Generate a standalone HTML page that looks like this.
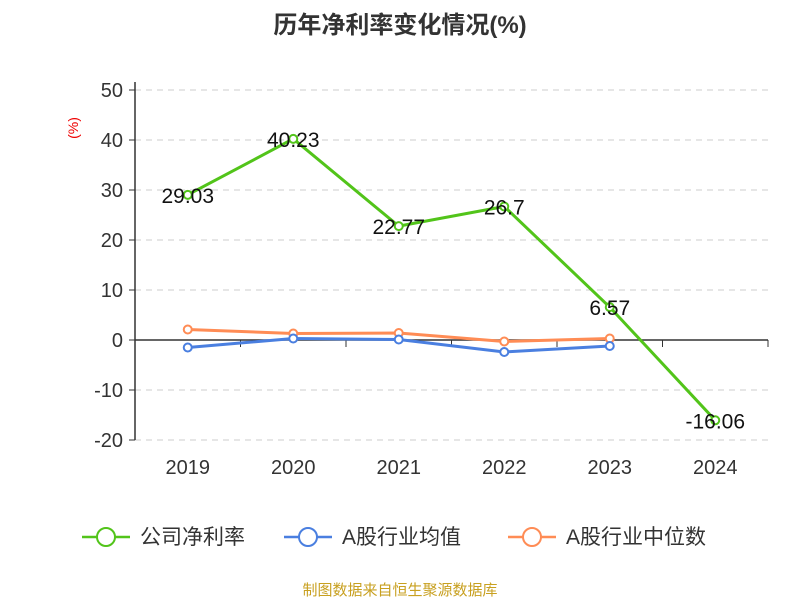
<!DOCTYPE html>
<html><head><meta charset="utf-8"><style>
body{margin:0;background:#fff;font-family:"Liberation Sans","Noto Sans CJK SC",sans-serif}
</style></head><body>
<svg id="c" width="800" height="600" xmlns="http://www.w3.org/2000/svg">
<text x="400" y="33" text-anchor="middle" font-size="24" font-weight="bold" fill="#333">历年净利率变化情况(%)</text>
<text x="78" y="128" transform="rotate(-90 78 128)" text-anchor="middle" font-size="14" fill="#e00">(%)</text>
<g id="grid"></g><g id="axes"></g><g id="series"></g>
<g font-size="21" fill="#333">
<g><line x1="82" y1="537" x2="130" y2="537" stroke="#52c41a" stroke-width="2.5"/><circle cx="106" cy="537" r="9" fill="#fff" stroke="#52c41a" stroke-width="2"/><text x="140" y="544">公司净利率</text></g>
<g><line x1="284" y1="537" x2="332" y2="537" stroke="#4a7fe0" stroke-width="2.5"/><circle cx="308" cy="537" r="9" fill="#fff" stroke="#4a7fe0" stroke-width="2"/><text x="342" y="544">A股行业均值</text></g>
<g><line x1="508" y1="537" x2="556" y2="537" stroke="#ff8c55" stroke-width="2.5"/><circle cx="532" cy="537" r="9" fill="#fff" stroke="#ff8c55" stroke-width="2"/><text x="566" y="544">A股行业中位数</text></g>
</g>
<text x="400" y="595" text-anchor="middle" font-size="15" fill="#c8a020">制图数据来自恒生聚源数据库</text>
</svg>
<script>
const categories=["2019","2020","2021","2022","2023","2024"];
const companyValues=[29.03,40.23,22.77,26.7,6.57,-16.06];
const companyLabels=["29.03","40.23","22.77","26.7","6.57","-16.06"];
const avgValues=[-1.5,0.3,0.1,-2.4,-1.2];
const medianValues=[2.1,1.3,1.4,-0.3,0.3];
const yTicks=[50,40,30,20,10,0,-10,-20];
const NS="http://www.w3.org/2000/svg";
const x0=135,x1=768,yTop=90,yBot=440,yMax=50,yMin=-20;
const bw=(x1-x0)/categories.length;
const X=i=>x0+bw*(i+0.5);
const Y=v=>yTop+(yMax-v)/(yMax-yMin)*(yBot-yTop);
function mk(tag,attrs,parent,txt){const e=document.createElementNS(NS,tag);for(const k in attrs)e.setAttribute(k,attrs[k]);if(txt!==undefined)e.textContent=txt;parent.appendChild(e);return e;}
const grid=document.getElementById('grid'),axes=document.getElementById('axes'),ser=document.getElementById('series');
yTicks.forEach(t=>{
 if(t!==0){const l=mk('line',{x1:x0,x2:x1,y1:Y(t),y2:Y(t),stroke:'#ccc','stroke-dasharray':'6,5'},grid);
 
 }
 const tk=mk('line',{x1:x0-6,x2:x0,y1:Y(t),y2:Y(t),stroke:'#333'},axes);
 
 
 const tx=mk('text',{x:x0-12,y:Y(t)+7,'text-anchor':'end','font-size':20,fill:'#333'},axes,String(t));
 
 
});
const ya=mk('line',{x1:x0,x2:x0,y1:yTop-8,y2:yBot,stroke:'#333','stroke-width':1.5},axes);


const xa=mk('line',{x1:x0,x2:x1,y1:Y(0),y2:Y(0),stroke:'#333','stroke-width':1.5},axes);


for(let i=0;i<=categories.length;i++){const t=mk('line',{x1:x0+bw*i,x2:x0+bw*i,y1:Y(0),y2:Y(0)+7,stroke:'#333'},axes);
 
 }
categories.forEach((c,i)=>{const t=mk('text',{x:X(i),y:474,'text-anchor':'middle','font-size':20,fill:'#333'},axes,c);
 
 });
function series(vals,color,name){
 const p=mk('polyline',{points:vals.map((v,i)=>X(i)+','+Y(v)).join(' '),fill:'none',stroke:color,'stroke-width':3},ser);
 
 
 vals.forEach((v,i)=>{const c=mk('circle',{cx:X(i),cy:Y(v),r:4,fill:'#fff',stroke:color,'stroke-width':2},ser);
 
 });
}
series(medianValues,'#ff8c55','industry-median');
series(avgValues,'#4a7fe0','industry-avg');
series(companyValues,'#52c41a','company');
companyValues.forEach((v,i)=>{const t=mk('text',{x:X(i),y:Y(v)+8,'text-anchor':'middle','font-size':21,fill:'#111'},ser,companyLabels[i]);
 
 });
</script>
</body></html>
